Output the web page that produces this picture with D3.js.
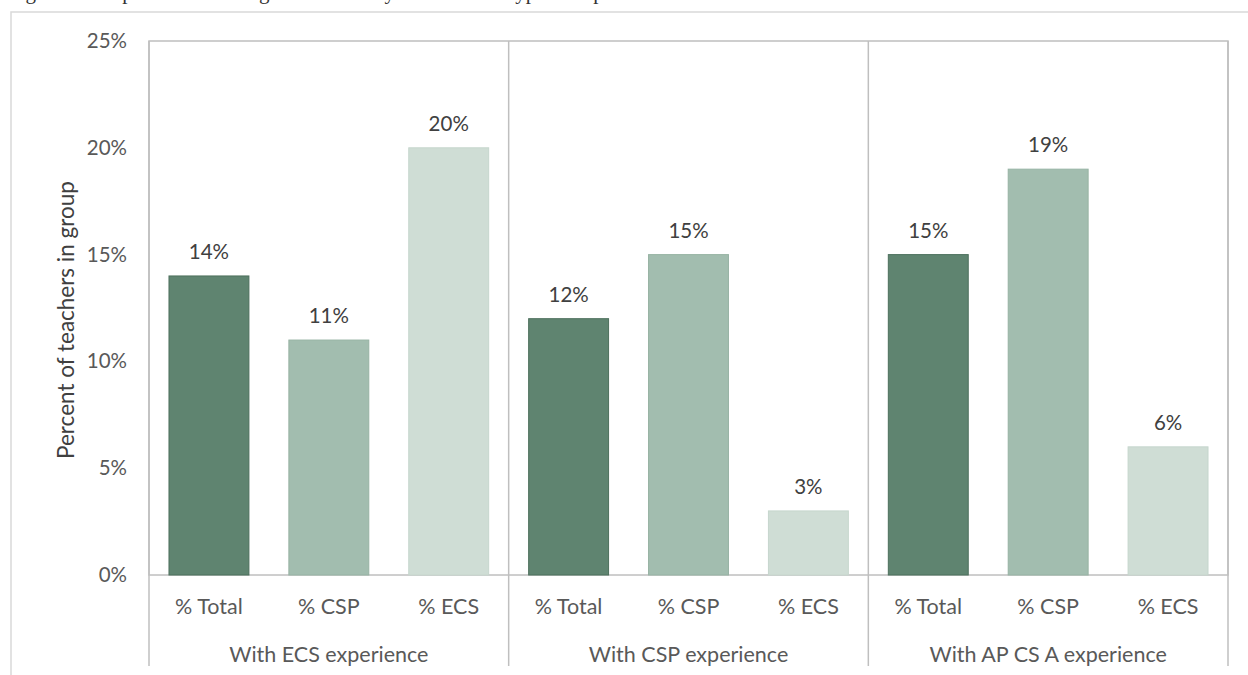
<!DOCTYPE html>
<html>
<head>
<meta charset="utf-8">
<script src="https://cdn.jsdelivr.net/npm/d3@7"></script>
<style>
  html, body { margin: 0; padding: 0; background: #fff; }
  svg { display: block; }
</style>
</head>
<body>
<svg id="chart" width="1248" height="675"></svg>
<script>
// Experience groups, bar categories and their shares (fraction of teachers)
const groups = ["With ECS experience", "With CSP experience", "With AP CS A experience"];
const categories = ["% Total", "% CSP", "% ECS"];
const ecsExperience = [0.14, 0.11, 0.20];
const cspExperience = [0.12, 0.15, 0.03];
const apcsaExperience = [0.15, 0.19, 0.06];
const yTicks = [0, 0.05, 0.10, 0.15, 0.20, 0.25];
const titleText = "Figure 11. Experience teaching CS courses by total and CS type of experience";
const yTitle = "Percent of teachers in group";

const seriesByGroup = [ecsExperience, cspExperience, apcsaExperience];
const rows = [];
groups.forEach((g, gi) => {
  categories.forEach((c, ci) => rows.push({ group: g, cat: c, value: seriesByGroup[gi][ci] }));
});

const fills = { "% Total": "#5f8470", "% CSP": "#a2bdaf", "% ECS": "#cfddd5" };
const strokes = { "% Total": "#4d705d", "% CSP": "#97b3a4", "% ECS": "#c6d6cd" };

const font = "Lato, 'Open Sans', sans-serif";
const svg = d3.select("#chart");

const plot = { left: 149, right: 1228, top: 41, bottom: 575, axisBottom: 666 };

const x0 = d3.scaleBand().domain(groups).range([plot.left, plot.right]).padding(0);
const x1 = d3.scaleBand().domain(categories).range([0, x0.bandwidth()])
  .paddingInner(1 / 3).paddingOuter(1 / 6);
const y = d3.scaleLinear().domain([0, 0.25]).range([plot.bottom, plot.top]);

// Caption line, partly above the top edge
svg.append("text")
  .attr("x", 8).attr("y", -1)
  .attr("font-family", "'Liberation Serif', 'DejaVu Serif', serif")
  .attr("font-size", 21)
  .attr("fill", "#333")
  .text(titleText);

// Outer chart area border
svg.append("rect")
  .attr("x", 11).attr("y", 12)
  .attr("width", 1260).attr("height", 700)
  .attr("fill", "none")
  .attr("stroke", "#d9d9d9")
  .attr("stroke-width", 1.5);

// Plot frame
svg.append("rect")
  .attr("x", plot.left).attr("y", plot.top)
  .attr("width", plot.right - plot.left).attr("height", plot.bottom - plot.top)
  .attr("fill", "none")
  .attr("stroke", "#bfbfbf")
  .attr("stroke-width", 1.5);

// Group separators extending into the category axis
const bounds = groups.map(g => x0(g)).concat([x0(groups[groups.length - 1]) + x0.bandwidth()]);
svg.append("g").selectAll("line").data(bounds).join("line")
  .attr("x1", d => d).attr("x2", d => d)
  .attr("y1", plot.top).attr("y2", plot.axisBottom)
  .attr("stroke", "#bfbfbf")
  .attr("stroke-width", 1.5);

// Y axis
const yAxis = svg.append("g")
  .attr("transform", `translate(${plot.left},0)`)
  .call(d3.axisLeft(y).tickValues(yTicks).tickSize(0).tickPadding(22)
    .tickFormat(d3.format(".0%")));
yAxis.select(".domain").remove();
yAxis.selectAll("text")
  .attr("font-family", font)
  .attr("font-size", 20.5)
  .attr("fill", "#595959");

// Y axis title
svg.append("text")
  .attr("transform", `translate(74,${(plot.top + plot.bottom) / 2 + 12}) rotate(-90)`)
  .attr("text-anchor", "middle")
  .attr("font-family", font)
  .attr("font-size", 22.5)
  .attr("fill", "#404040")
  .text(yTitle);

// Bars
const barX = d => x0(d.group) + x1(d.cat);
svg.append("g").selectAll("rect").data(rows).join("rect")
  .attr("x", barX)
  .attr("y", d => y(d.value))
  .attr("width", x1.bandwidth())
  .attr("height", d => y(0) - y(d.value))
  .attr("fill", d => fills[d.cat])
  .attr("stroke", d => strokes[d.cat])
  .attr("stroke-width", 1);

// Value labels
svg.append("g").selectAll("text").data(rows).join("text")
  .attr("x", d => barX(d) + x1.bandwidth() / 2)
  .attr("y", d => y(d.value) - 17)
  .attr("text-anchor", "middle")
  .attr("font-family", font)
  .attr("font-size", 20.5)
  .attr("fill", "#404040")
  .text(d => d3.format(".0%")(d.value));

// Category labels
svg.append("g").selectAll("text").data(rows).join("text")
  .attr("x", d => barX(d) + x1.bandwidth() / 2)
  .attr("y", 614)
  .attr("text-anchor", "middle")
  .attr("font-family", font)
  .attr("font-size", 21.5)
  .attr("fill", "#595959")
  .text(d => d.cat);

// Group labels
svg.append("g").selectAll("text").data(groups).join("text")
  .attr("x", d => x0(d) + x0.bandwidth() / 2)
  .attr("y", 662)
  .attr("text-anchor", "middle")
  .attr("font-family", font)
  .attr("font-size", 21.5)
  .attr("fill", "#595959")
  .text(d => d);
</script>
</body>
</html>
